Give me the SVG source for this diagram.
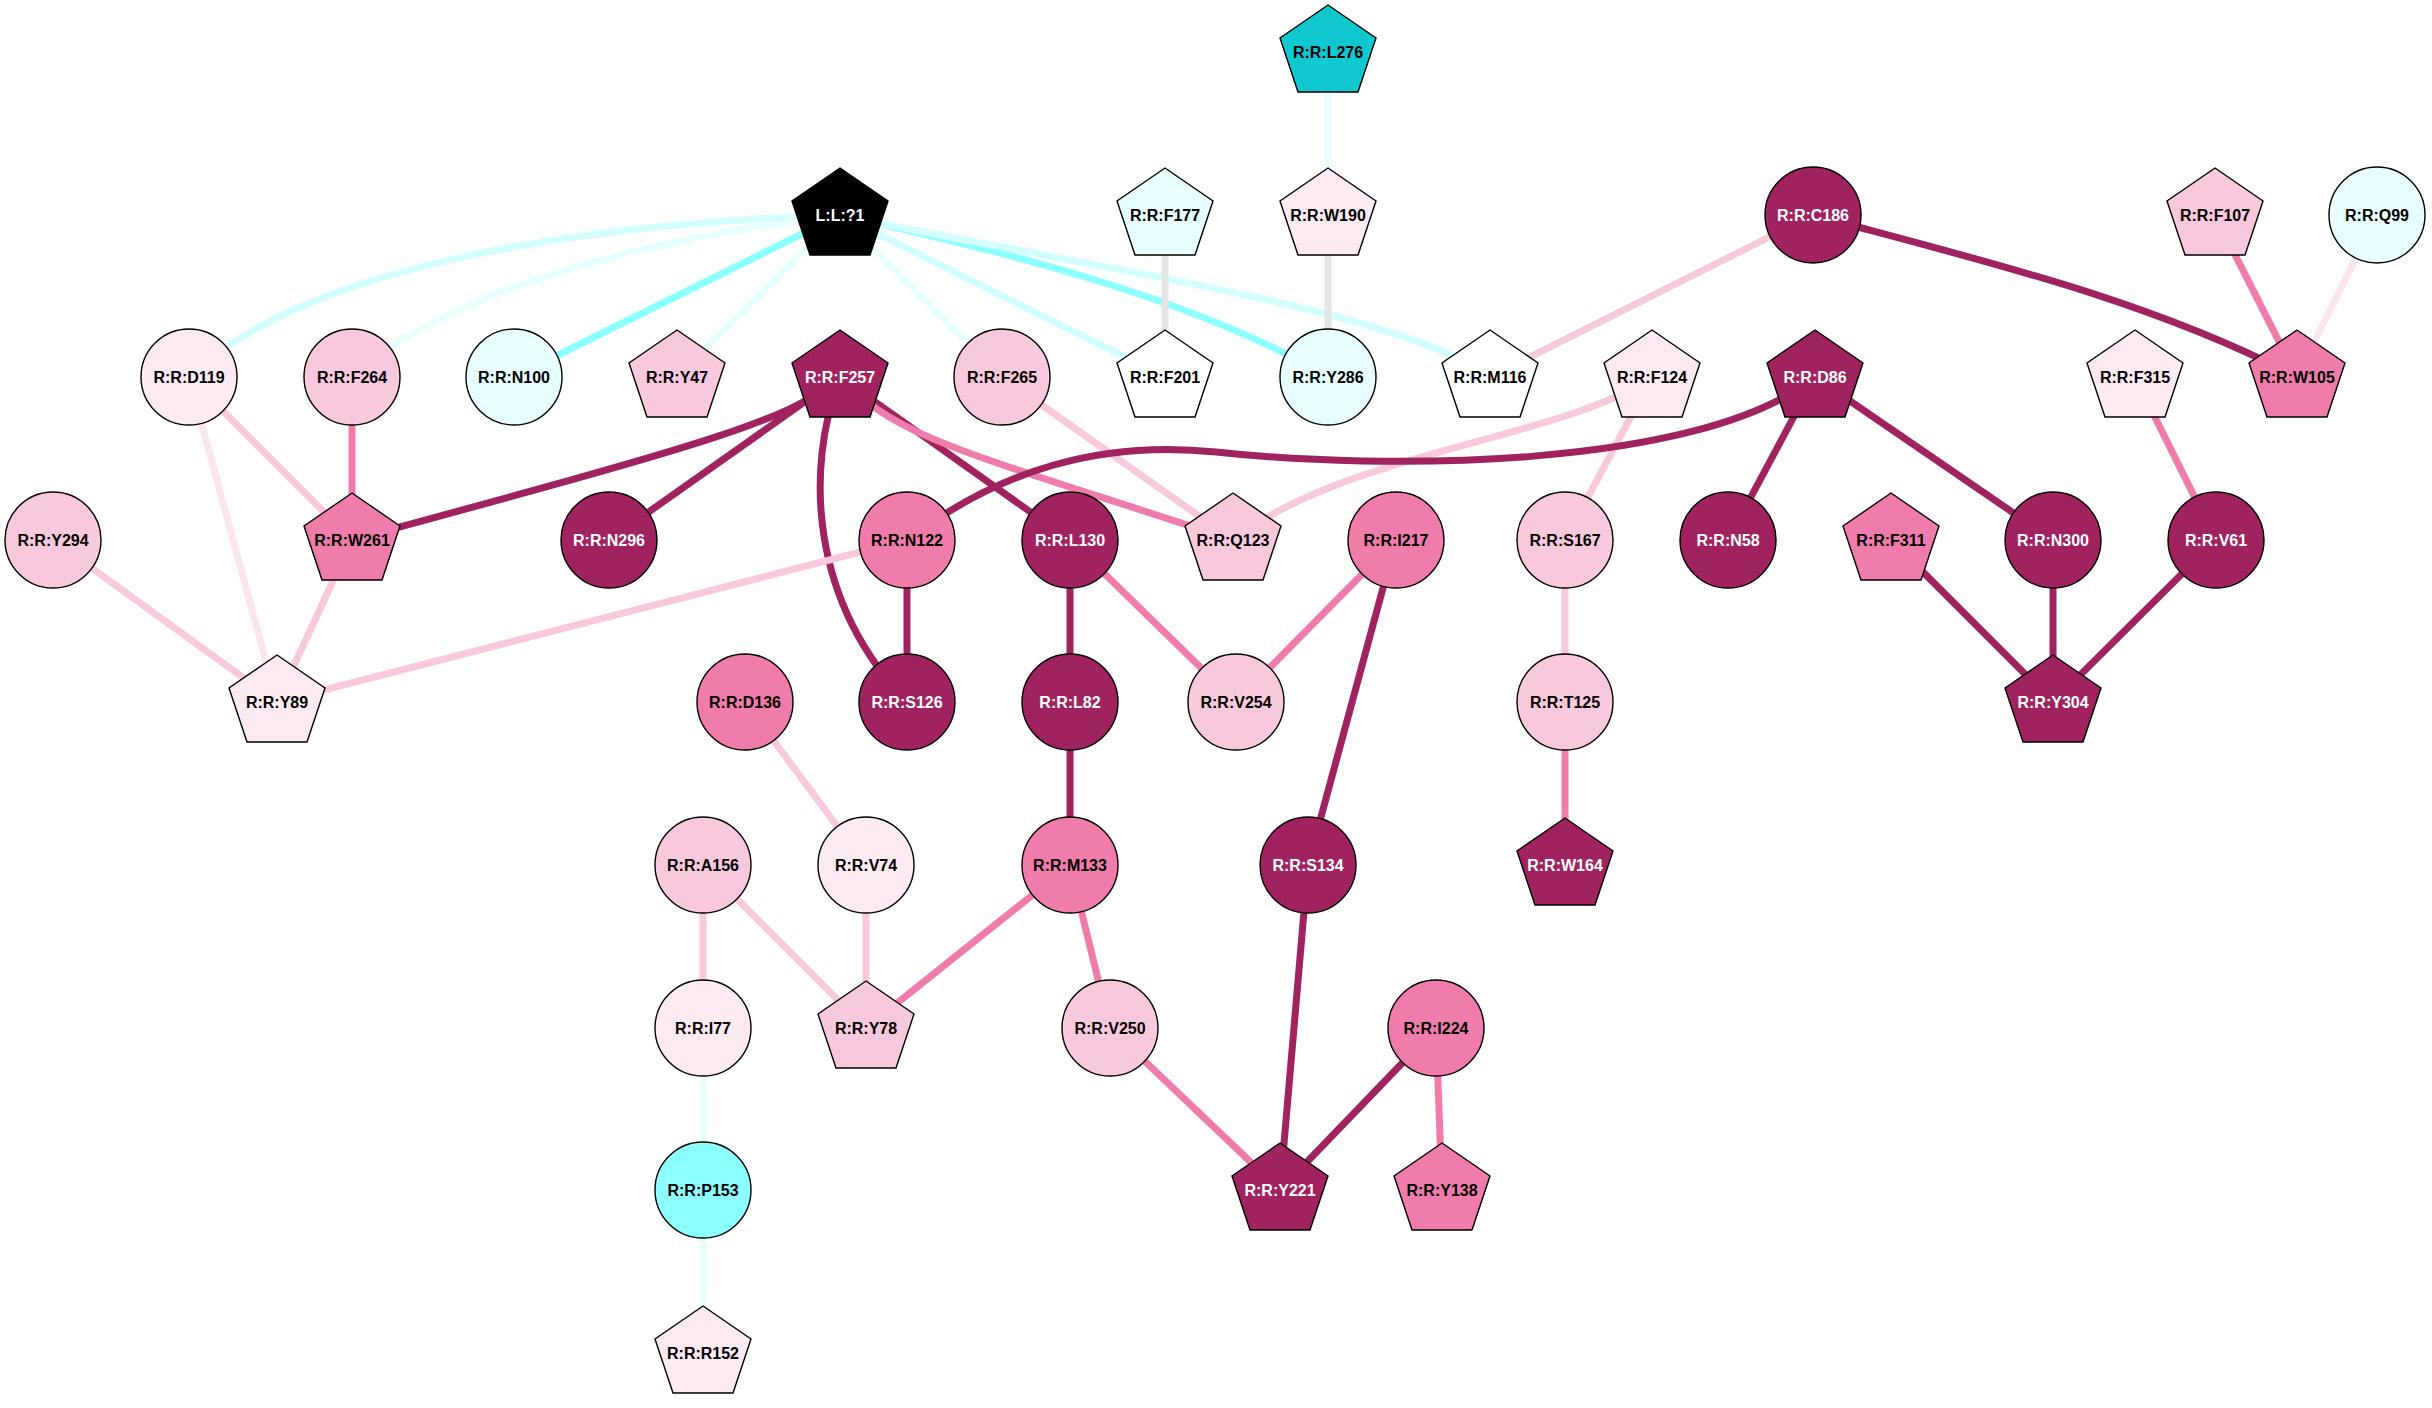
<svg xmlns="http://www.w3.org/2000/svg" width="2432" height="1408" viewBox="0 0 2432 1408">
<style>
.e{fill:none;stroke-width:7}
.dk{stroke:#A0235F}.md{stroke:#F07CAB}.lp{stroke:#F8C8DC}.vp{stroke:#FBE6EF}
.bc{stroke:#8CFFFF}.lc{stroke:#D4FFFF}.vc{stroke:#E8FFFF}.gr{stroke:#E5E5E5}
.n{stroke:#000;stroke-width:1.4}
.fdk{fill:#A0235F}.fmd{fill:#F07CAB}.flp{fill:#F8C8DC}.fvp{fill:#FBEAF2}.fw{fill:#FFFFFF}
.flc{fill:#E8FFFF}.fcy{fill:#8CFFFF}.fdc{fill:#10C8D0}.fbk{fill:#000000}
text{font-family:"Liberation Sans",Arial,sans-serif;font-weight:bold;font-size:16px;text-anchor:middle;fill:#000}
text.w{fill:#FFFFFF}
</style>
<defs>
<polygon id="pent" points="0,-47 48,-14 30,40 -30,40 -48,-14"/>
<circle id="circ" r="48"/>
</defs>
<rect width="2432" height="1408" fill="#FFFFFF"/>
<g id="connectors">
<path class="e lc" d="M840,215 C560,225 300,270 189,377"/>
<path class="e vc" d="M840,215 C640,240 450,290 352,377"/>
<path class="e bc" d="M840,215 L514,377"/>
<path class="e vc" d="M840,215 L677,377"/>
<path class="e vc" d="M840,215 L1002,377"/>
<path class="e lc" d="M840,215 L1165,377"/>
<path class="e bc" d="M840,215 C1000,250 1200,300 1328,377"/>
<path class="e lc" d="M840,215 C1100,270 1400,310 1490,377"/>
<path class="e gr" d="M1165,215 L1165,377"/>
<path class="e vc" d="M1328,52 L1328,215"/>
<path class="e gr" d="M1328,215 L1328,377"/>
<path class="e lp" d="M1813,215 L1490,377"/>
<path class="e dk" d="M1813,215 C1980,260 2150,300 2297,377"/>
<path class="e md" d="M2215,215 L2297,377"/>
<path class="e vp" d="M2377,215 L2297,377"/>
<path class="e lp" d="M189,377 L352,540"/>
<path class="e vp" d="M189,377 L277,702"/>
<path class="e md" d="M352,377 L352,540"/>
<path class="e dk" d="M840,377 C790,420 720,440 352,540"/>
<path class="e dk" d="M840,377 L609,540"/>
<path class="e dk" d="M840,377 C805,470 810,600 907,702"/>
<path class="e dk" d="M840,377 L1070,540"/>
<path class="e md" d="M840,377 C900,440 960,450 1233,540"/>
<path class="e lp" d="M1002,377 L1233,540"/>
<path class="e lp" d="M1652,377 C1560,440 1350,450 1233,540"/>
<path class="e lp" d="M1652,377 L1565,540"/>
<path class="e dk" d="M1815,377 C1700,470 1380,470 1216,452 C1100,440 1000,470 907,540"/>
<path class="e dk" d="M1815,377 L1728,540"/>
<path class="e dk" d="M1815,377 L2053,540"/>
<path class="e md" d="M2135,377 L2216,540"/>
<path class="e lp" d="M53,540 L277,702"/>
<path class="e lp" d="M352,540 L277,702"/>
<path class="e lp" d="M907,540 L277,702"/>
<path class="e dk" d="M907,540 L907,702"/>
<path class="e dk" d="M1070,540 L1070,702"/>
<path class="e md" d="M1070,540 L1236,702"/>
<path class="e md" d="M1396,540 L1236,702"/>
<path class="e dk" d="M1396,540 L1308,865"/>
<path class="e lp" d="M1565,540 L1565,702"/>
<path class="e dk" d="M1891,540 L2053,702"/>
<path class="e dk" d="M2053,540 L2053,702"/>
<path class="e dk" d="M2216,540 L2053,702"/>
<path class="e lp" d="M745,702 L866,865"/>
<path class="e dk" d="M1070,702 L1070,865"/>
<path class="e md" d="M1565,702 L1565,865"/>
<path class="e lp" d="M703,865 L703,1028"/>
<path class="e lp" d="M703,865 L866,1028"/>
<path class="e lp" d="M866,865 L866,1028"/>
<path class="e md" d="M1070,865 L866,1028"/>
<path class="e md" d="M1070,865 L1110,1028"/>
<path class="e md" d="M1110,1028 L1280,1190"/>
<path class="e dk" d="M1308,865 L1280,1190"/>
<path class="e dk" d="M1436,1028 L1280,1190"/>
<path class="e md" d="M1436,1028 L1442,1190"/>
<path class="e vc" d="M703,1028 L703,1190"/>
<path class="e vc" d="M703,1190 L703,1353"/>
</g>
<g id="L276" transform="translate(1328,52)"><use href="#pent" class="n fdc"/><text y="5.5">R:R:L276</text></g>
<g id="L1" transform="translate(840,215)"><use href="#pent" class="n fbk"/><text y="5.5" class="w">L:L:?1</text></g>
<g id="F177" transform="translate(1165,215)"><use href="#pent" class="n flc"/><text y="5.5">R:R:F177</text></g>
<g id="W190" transform="translate(1328,215)"><use href="#pent" class="n fvp"/><text y="5.5">R:R:W190</text></g>
<g id="C186" transform="translate(1813,215)"><use href="#circ" class="n fdk"/><text y="5.5" class="w">R:R:C186</text></g>
<g id="F107" transform="translate(2215,215)"><use href="#pent" class="n flp"/><text y="5.5">R:R:F107</text></g>
<g id="Q99" transform="translate(2377,215)"><use href="#circ" class="n flc"/><text y="5.5">R:R:Q99</text></g>
<g id="D119" transform="translate(189,377)"><use href="#circ" class="n fvp"/><text y="5.5">R:R:D119</text></g>
<g id="F264" transform="translate(352,377)"><use href="#circ" class="n flp"/><text y="5.5">R:R:F264</text></g>
<g id="N100" transform="translate(514,377)"><use href="#circ" class="n flc"/><text y="5.5">R:R:N100</text></g>
<g id="Y47" transform="translate(677,377)"><use href="#pent" class="n flp"/><text y="5.5">R:R:Y47</text></g>
<g id="F257" transform="translate(840,377)"><use href="#pent" class="n fdk"/><text y="5.5" class="w">R:R:F257</text></g>
<g id="F265" transform="translate(1002,377)"><use href="#circ" class="n flp"/><text y="5.5">R:R:F265</text></g>
<g id="F201" transform="translate(1165,377)"><use href="#pent" class="n fw"/><text y="5.5">R:R:F201</text></g>
<g id="Y286" transform="translate(1328,377)"><use href="#circ" class="n flc"/><text y="5.5">R:R:Y286</text></g>
<g id="M116" transform="translate(1490,377)"><use href="#pent" class="n fw"/><text y="5.5">R:R:M116</text></g>
<g id="F124" transform="translate(1652,377)"><use href="#pent" class="n fvp"/><text y="5.5">R:R:F124</text></g>
<g id="D86" transform="translate(1815,377)"><use href="#pent" class="n fdk"/><text y="5.5" class="w">R:R:D86</text></g>
<g id="F315" transform="translate(2135,377)"><use href="#pent" class="n fvp"/><text y="5.5">R:R:F315</text></g>
<g id="W105" transform="translate(2297,377)"><use href="#pent" class="n fmd"/><text y="5.5">R:R:W105</text></g>
<g id="Y294" transform="translate(53,540)"><use href="#circ" class="n flp"/><text y="5.5">R:R:Y294</text></g>
<g id="W261" transform="translate(352,540)"><use href="#pent" class="n fmd"/><text y="5.5">R:R:W261</text></g>
<g id="N296" transform="translate(609,540)"><use href="#circ" class="n fdk"/><text y="5.5" class="w">R:R:N296</text></g>
<g id="N122" transform="translate(907,540)"><use href="#circ" class="n fmd"/><text y="5.5">R:R:N122</text></g>
<g id="L130" transform="translate(1070,540)"><use href="#circ" class="n fdk"/><text y="5.5" class="w">R:R:L130</text></g>
<g id="Q123" transform="translate(1233,540)"><use href="#pent" class="n flp"/><text y="5.5">R:R:Q123</text></g>
<g id="I217" transform="translate(1396,540)"><use href="#circ" class="n fmd"/><text y="5.5">R:R:I217</text></g>
<g id="S167" transform="translate(1565,540)"><use href="#circ" class="n flp"/><text y="5.5">R:R:S167</text></g>
<g id="N58" transform="translate(1728,540)"><use href="#circ" class="n fdk"/><text y="5.5" class="w">R:R:N58</text></g>
<g id="F311" transform="translate(1891,540)"><use href="#pent" class="n fmd"/><text y="5.5">R:R:F311</text></g>
<g id="N300" transform="translate(2053,540)"><use href="#circ" class="n fdk"/><text y="5.5" class="w">R:R:N300</text></g>
<g id="V61" transform="translate(2216,540)"><use href="#circ" class="n fdk"/><text y="5.5" class="w">R:R:V61</text></g>
<g id="Y89" transform="translate(277,702)"><use href="#pent" class="n fvp"/><text y="5.5">R:R:Y89</text></g>
<g id="D136" transform="translate(745,702)"><use href="#circ" class="n fmd"/><text y="5.5">R:R:D136</text></g>
<g id="S126" transform="translate(907,702)"><use href="#circ" class="n fdk"/><text y="5.5" class="w">R:R:S126</text></g>
<g id="L82" transform="translate(1070,702)"><use href="#circ" class="n fdk"/><text y="5.5" class="w">R:R:L82</text></g>
<g id="V254" transform="translate(1236,702)"><use href="#circ" class="n flp"/><text y="5.5">R:R:V254</text></g>
<g id="T125" transform="translate(1565,702)"><use href="#circ" class="n flp"/><text y="5.5">R:R:T125</text></g>
<g id="Y304" transform="translate(2053,702)"><use href="#pent" class="n fdk"/><text y="5.5" class="w">R:R:Y304</text></g>
<g id="A156" transform="translate(703,865)"><use href="#circ" class="n flp"/><text y="5.5">R:R:A156</text></g>
<g id="V74" transform="translate(866,865)"><use href="#circ" class="n fvp"/><text y="5.5">R:R:V74</text></g>
<g id="M133" transform="translate(1070,865)"><use href="#circ" class="n fmd"/><text y="5.5">R:R:M133</text></g>
<g id="S134" transform="translate(1308,865)"><use href="#circ" class="n fdk"/><text y="5.5" class="w">R:R:S134</text></g>
<g id="W164" transform="translate(1565,865)"><use href="#pent" class="n fdk"/><text y="5.5" class="w">R:R:W164</text></g>
<g id="I77" transform="translate(703,1028)"><use href="#circ" class="n fvp"/><text y="5.5">R:R:I77</text></g>
<g id="Y78" transform="translate(866,1028)"><use href="#pent" class="n flp"/><text y="5.5">R:R:Y78</text></g>
<g id="V250" transform="translate(1110,1028)"><use href="#circ" class="n flp"/><text y="5.5">R:R:V250</text></g>
<g id="I224" transform="translate(1436,1028)"><use href="#circ" class="n fmd"/><text y="5.5">R:R:I224</text></g>
<g id="P153" transform="translate(703,1190)"><use href="#circ" class="n fcy"/><text y="5.5">R:R:P153</text></g>
<g id="Y221" transform="translate(1280,1190)"><use href="#pent" class="n fdk"/><text y="5.5" class="w">R:R:Y221</text></g>
<g id="Y138" transform="translate(1442,1190)"><use href="#pent" class="n fmd"/><text y="5.5">R:R:Y138</text></g>
<g id="R152" transform="translate(703,1353)"><use href="#pent" class="n fvp"/><text y="5.5">R:R:R152</text></g>
</svg>
